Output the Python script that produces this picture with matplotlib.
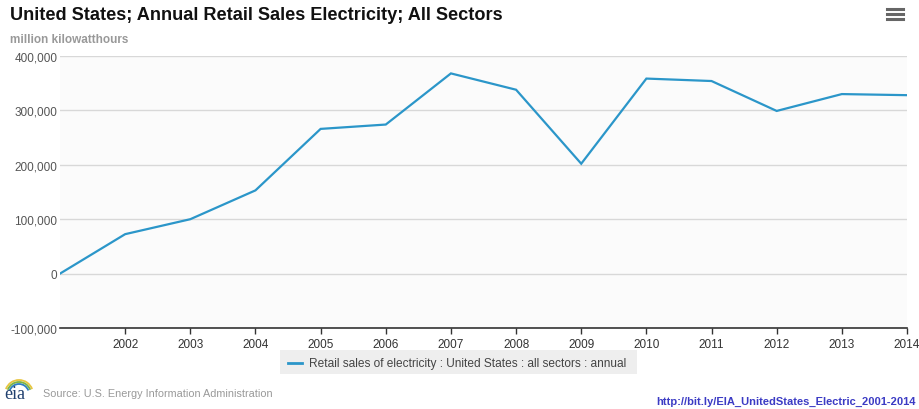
import matplotlib
matplotlib.use("Agg")
import matplotlib.pyplot as plt
from matplotlib.lines import Line2D
from matplotlib.patches import Arc, Rectangle
from matplotlib.ticker import FuncFormatter

years = [2001, 2002, 2003, 2004, 2005, 2006, 2007, 2008, 2009, 2010, 2011, 2012, 2013, 2014]
sales = [0, 72500, 100000, 153000, 266000, 274000, 368000, 338000, 202000, 358500, 354000, 299000, 330000, 328000]
tick_years = list(range(2002, 2015))
y_ticks = [-100000, 0, 100000, 200000, 300000, 400000]
series_label = "Retail sales of electricity : United States : all sectors : annual"
title = "United States; Annual Retail Sales Electricity; All Sectors"
subtitle = "million kilowatthours"

plt.rcParams['font.family'] = ['Liberation Sans', 'DejaVu Sans']

W, H = 919, 410
fig = plt.figure(figsize=(W / 100, H / 100), dpi=100)
fig.patch.set_facecolor('white')

def fx(px):
    return px / W

def fy(py):
    return 1 - py / H

ax = fig.add_axes([fx(60), fy(329), fx(907) - fx(60), fy(57) - fy(329)])
ax.set_facecolor('#fbfbfb')
line_color = '#2b96c9'
ax.plot(years, sales, color=line_color, lw=1.6, solid_joinstyle='miter')
ax.set_xlim(2001, 2014)
ax.set_ylim(-100000, 400000)
ax.set_yticks(y_ticks)
ax.yaxis.set_major_formatter(FuncFormatter(lambda v, p: f"{int(v):,}"))
ax.set_xticks(tick_years)
ax.set_xticklabels([str(y) for y in tick_years])
for s in ['top', 'right', 'left']:
    ax.spines[s].set_visible(False)
ax.spines['bottom'].set_color('#333333')
ax.spines['bottom'].set_linewidth(1.2)
ax.grid(axis='y', color='#d8d8d8', lw=1.0)
ax.set_axisbelow(True)
ax.tick_params(axis='y', length=0, pad=2, labelsize=8.5, labelcolor='#555555')
ax.tick_params(axis='x', length=4, width=1, color='#333333', pad=3, labelsize=8.5, labelcolor='#333333')

# Title and subtitle
fig.text(fx(10), fy(16), title, fontsize=13.1, fontweight='bold', color='#111111', va='center', ha='left')
fig.text(fx(10), fy(40), subtitle, fontsize=8.5, fontweight='bold', color='#999999', va='center', ha='left')

# Legend box
fig.patches.append(Rectangle((fx(280), fy(375)), fx(637) - fx(280), fy(351) - fy(375),
                   transform=fig.transFigure, facecolor='#eeeeee', edgecolor='none', zorder=-1))
fig.lines.append(Line2D([fx(288), fx(302)], [fy(364), fy(364)], transform=fig.transFigure, color=line_color, lw=2))
fig.text(fx(309), fy(364), series_label, fontsize=8.6, color='#444444', va='center', ha='left')

# Source
fig.text(fx(43), fy(394), "Source: U.S. Energy Information Administration", fontsize=7.8, color='#999999', va='center', ha='left')
fig.text(fx(4), fy(395), "eia", fontsize=13, family='Liberation Serif', color='#1f3f6e', va='center', ha='left')
for r, c in [(14, '#e8c540'), (12, '#7cb342'), (10, '#2f7fc0')]:
    fig.patches.append(Arc((fx(19), fy(395)), r * 2 / W, r * 2 / H, theta1=40, theta2=140,
                           transform=fig.transFigure, color=c, lw=1.3))

# URL
fig.text(fx(916), fy(402), "http://bit.ly/EIA_UnitedStates_Electric_2001-2014", fontsize=8.0, fontweight='bold',
         color='#3b3bc4', va='center', ha='right')

# Menu icon
for py in [10, 15, 20]:
    fig.lines.append(Line2D([fx(887), fx(903)], [fy(py), fy(py)], transform=fig.transFigure, color='#666666', lw=2.2))

fig.savefig('out.png', dpi=100)
